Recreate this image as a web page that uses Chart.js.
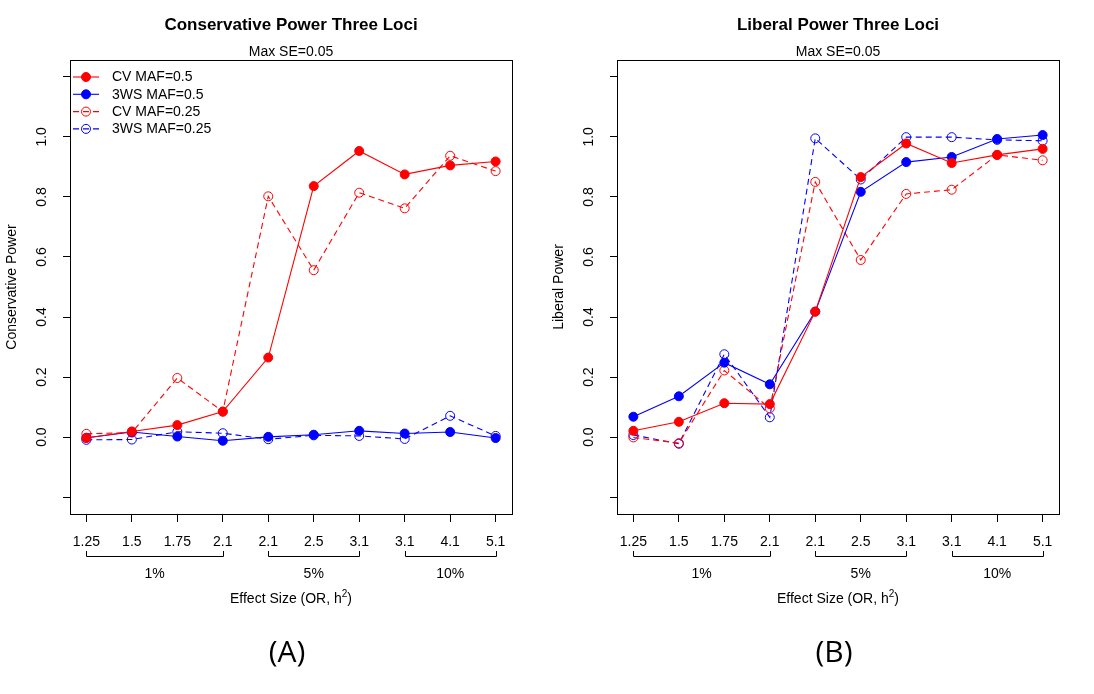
<!DOCTYPE html>
<html>
<head>
<meta charset="utf-8">
<script src="https://cdn.jsdelivr.net/npm/chart.js@4"></script>
<style>
  body { margin: 0; background: #fff; }
  .panel { position: absolute; top: 0; }
</style>
</head>
<body>
<canvas id="left" class="panel" width="547" height="694" style="left:0"></canvas>
<canvas id="right" class="panel" width="547" height="694" style="left:547px"></canvas>
<script>
// x tick labels (OR values), one per category position 1..10
const tickLabels = ['1.25', '1.5', '1.75', '2.1', '2.1', '2.5', '3.1', '3.1', '4.1', '5.1']
// h2 groups: label, first and last category (1-based)
const groupLabels = ['1%', '5%', '10%']
const groupFirst = [1, 5, 8]
const groupLast = [4, 7, 10]
const yTicks = [-0.2, 0, 0.2, 0.4, 0.6, 0.8, 1.0, 1.2]
const yLabels = ['0.0', '0.2', '0.4', '0.6', '0.8', '1.0']

// Conservative power
const consCV05 = [-0.003, 0.019, 0.04, 0.085, 0.265, 0.836, 0.953, 0.875, 0.905, 0.918]
const cons3WS05 = [-0.002, 0.017, 0.002, -0.012, 0.001, 0.008, 0.021, 0.012, 0.017, -0.003]
const consCV025 = [0.011, 0.015, 0.197, 0.085, 0.802, 0.556, 0.814, 0.762, 0.937, 0.886]
const cons3WS025 = [-0.009, -0.008, 0.018, 0.013, -0.007, 0.006, 0.004, -0.006, 0.071, 0.004]

// Liberal power
const libCV05 = [0.021, 0.051, 0.113, 0.110, 0.418, 0.866, 0.978, 0.913, 0.940, 0.960]
const lib3WS05 = [0.068, 0.136, 0.248, 0.176, 0.418, 0.817, 0.916, 0.933, 0.993, 1.006]
const libCV025 = [-0.001, -0.020, 0.222, 0.096, 0.850, 0.590, 0.810, 0.824, 0.940, 0.922]
const lib3WS025 = [0.007, -0.022, 0.276, 0.066, 0.995, 0.858, 0.999, 0.999, 0.990, 0.987]

const seriesNames = ['CV MAF=0.5', '3WS MAF=0.5', 'CV MAF=0.25', '3WS MAF=0.25']

const FONT = '"Liberation Sans", Arial, Helvetica, sans-serif'
const RED = '#ff0000'
const BLUE = '#0000ff'
const DASH = [6, 4]

function makeDataset(label, values, color, open) {
    return {
        label: label,
        data: values.map((v, i) => ({ x: i + 1, y: v })),
        borderColor: color,
        borderWidth: 1.1,
        borderDash: open ? DASH : [],
        pointRadius: 4.5,
        pointHoverRadius: 4.5,
        pointBorderWidth: 1,
        pointBorderColor: color,
        pointBackgroundColor: open ? 'rgba(0,0,0,0)' : color,
        tension: 0,
        fill: false
    }
}

// draws everything R puts around the plot: box, titles, rotated y labels, brackets, legend
const decorations = {
    id: 'decorations',
    afterDraw(chart, args, opts) {
        const ctx = chart.ctx
        const area = chart.chartArea
        const xs = chart.scales.x
        const ys = chart.scales.y
        const cx = (area.left + area.right) / 2
        ctx.save()
        ctx.fillStyle = '#000'
        ctx.strokeStyle = '#000'

        // box
        ctx.lineWidth = 1
        ctx.strokeRect(Math.round(area.left) + 0.5, Math.round(area.top) + 0.5,
            Math.round(area.right - area.left), Math.round(area.bottom - area.top))

        // titles
        ctx.textAlign = 'center'
        ctx.textBaseline = 'middle'
        ctx.font = 'bold 17px ' + FONT
        ctx.fillText(opts.title, cx, 25)
        ctx.font = '14px ' + FONT
        ctx.fillText('Max SE=0.05', cx, 52)

        // rotated y tick labels
        yLabels.forEach(lab => {
            const y = ys.getPixelForValue(parseFloat(lab))
            ctx.save()
            ctx.translate(area.left - 28, y)
            ctx.rotate(-Math.PI / 2)
            ctx.fillText(lab, 0, 0)
            ctx.restore()
        })

        // y axis title
        ctx.save()
        ctx.translate(area.left - 58, (area.top + area.bottom) / 2)
        ctx.rotate(-Math.PI / 2)
        ctx.fillText(opts.yTitle, 0, 0)
        ctx.restore()

        // group brackets
        ctx.lineWidth = 1
        groupLabels.forEach((lab, g) => {
            const x1 = Math.round(xs.getPixelForValue(groupFirst[g])) + 0.5
            const x2 = Math.round(xs.getPixelForValue(groupLast[g])) + 0.5
            ctx.beginPath()
            ctx.moveTo(x1, 551)
            ctx.lineTo(x1, 556.5)
            ctx.lineTo(x2, 556.5)
            ctx.lineTo(x2, 551)
            ctx.stroke()
            const mid = xs.getPixelForValue((groupFirst[g] + groupLast[g]) / 2)
            ctx.fillText(lab, mid, 574)
        })

        // x axis title with superscript
        const main = 'Effect Size (OR, h'
        ctx.font = '14px ' + FONT
        const w1 = ctx.measureText(main).width
        const w3 = ctx.measureText(')').width
        ctx.font = '10px ' + FONT
        const w2 = ctx.measureText('2').width
        let x0 = cx - (w1 + w2 + w3) / 2
        ctx.textAlign = 'left'
        ctx.font = '14px ' + FONT
        ctx.fillText(main, x0, 599)
        ctx.font = '10px ' + FONT
        ctx.fillText('2', x0 + w1, 594)
        ctx.font = '14px ' + FONT
        ctx.fillText(')', x0 + w1 + w2, 599)

        // legend
        if (opts.legend) {
            chart.data.datasets.forEach((ds, i) => {
                const y = 77 + i * 17.3
                ctx.strokeStyle = ds.borderColor
                ctx.lineWidth = ds.borderWidth
                ctx.setLineDash(ds.borderDash)
                ctx.beginPath()
                ctx.moveTo(73, y)
                ctx.lineTo(99, y)
                ctx.stroke()
                ctx.setLineDash([])
                ctx.beginPath()
                ctx.arc(86, y, ds.pointRadius, 0, Math.PI * 2)
                ctx.fillStyle = ds.pointBackgroundColor
                ctx.fill()
                ctx.lineWidth = ds.pointBorderWidth
                ctx.stroke()
                ctx.fillStyle = '#000'
                ctx.font = '14px ' + FONT
                ctx.fillText(ds.label, 112, y + 0.5)
            })
        }

        // panel letter
        ctx.textAlign = 'center'
        ctx.font = '30px "Open Sans", "Noto Sans", sans-serif'
        ctx.fillText(opts.letter, cx - 4, 653)
        ctx.restore()
    }
}

function makeChart(id, series, title, yTitle, letter, legend) {
    return new Chart(document.getElementById(id), {
        type: 'line',
        data: {
            datasets: [
                makeDataset(seriesNames[0], series[0], RED, false),
                makeDataset(seriesNames[1], series[1], BLUE, false),
                makeDataset(seriesNames[2], series[2], RED, true),
                makeDataset(seriesNames[3], series[3], BLUE, true)
            ]
        },
        options: {
            responsive: false,
            animation: false,
            events: [],
            layout: { padding: { top: 60, right: 35, left: 0, bottom: 0 } },
            plugins: {
                legend: { display: false },
                tooltip: { enabled: false },
                decorations: { title: title, yTitle: yTitle, letter: letter, legend: legend }
            },
            scales: {
                x: {
                    type: 'linear',
                    min: 0.64,
                    max: 10.36,
                    afterBuildTicks: s => { s.ticks = tickLabels.map((t, i) => ({ value: i + 1 })) },
                    afterFit: s => { s.height = 180 },
                    ticks: {
                        callback: v => tickLabels[Math.round(v) - 1],
                        autoSkip: false,
                        maxRotation: 0,
                        padding: 12,
                        color: '#000',
                        font: { family: FONT, size: 14 }
                    },
                    grid: { drawOnChartArea: false, drawTicks: true, tickLength: 8, color: '#000', lineWidth: 1 },
                    border: { display: false }
                },
                y: {
                    type: 'linear',
                    min: -0.256,
                    max: 1.256,
                    afterBuildTicks: s => { s.ticks = yTicks.map(v => ({ value: v })) },
                    afterFit: s => { s.width = 70 },
                    ticks: { display: false },
                    grid: { drawOnChartArea: false, drawTicks: true, tickLength: 7, color: '#000', lineWidth: 1 },
                    border: { display: false }
                }
            }
        },
        plugins: [decorations]
    })
}

makeChart('left', [consCV05, cons3WS05, consCV025, cons3WS025],
    'Conservative Power Three Loci', 'Conservative Power', '(A)', true)
makeChart('right', [libCV05, lib3WS05, libCV025, lib3WS025],
    'Liberal Power Three Loci', 'Liberal Power', '(B)', false)
</script>
</body>
</html>
